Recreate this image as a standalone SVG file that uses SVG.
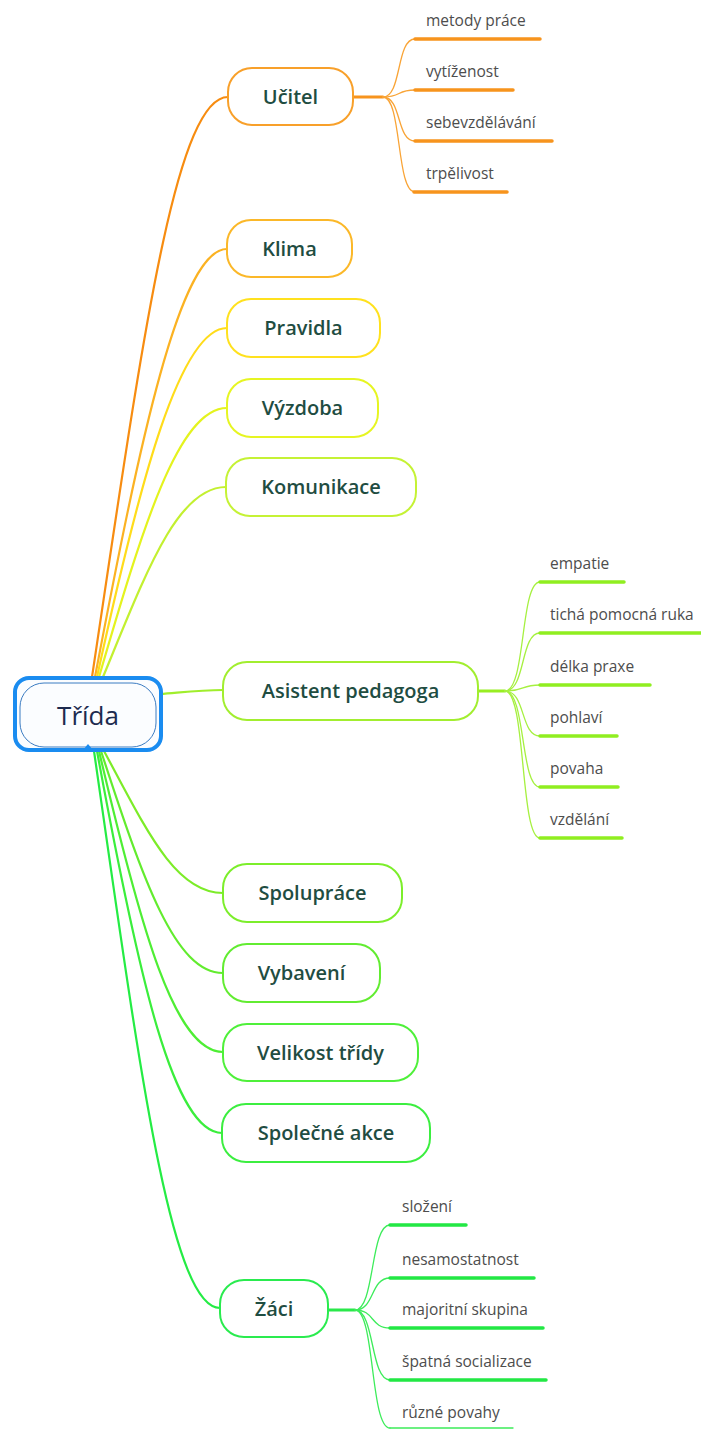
<svg xmlns="http://www.w3.org/2000/svg" width="701" height="1429" viewBox="0 0 701 1429">
<style>
  .node rect { fill: #ffffff; stroke-width: 2; }
  .node text { font-family: "Open Sans", "Noto Sans", "Liberation Sans", sans-serif; font-size: 20px; font-weight: 600; fill: #1f4d42; text-anchor: middle; }
  .leaf text { font-family: "Open Sans", "Noto Sans", "Liberation Sans", sans-serif; font-size: 15.5px; fill: #4d4d4d; }
  .conn path { fill: none; stroke-linecap: round; }
  .main { stroke-width: 2.2; }
  .sub { stroke-width: 1.3; }
  .ul { stroke-width: 3.5; stroke-linecap: butt; }
  .trunk { stroke-width: 3; }
</style>
<rect width="701" height="1429" fill="#ffffff"/>
<g id="connectors" class="conn">
  <!-- root to main topics -->
  <path class="main" stroke="#f78c10" d="M92,677 C140,358 174,97 228,97"/>
  <path class="main" stroke="#fbb222" d="M95,677 C140,440 180,249 227,249"/>
  <path class="main" stroke="#ffdc1a" d="M97,677 C140,480 180,328 227,328"/>
  <path class="main" stroke="#e4f31e" d="M99,677 C142,530 178,408 227,408"/>
  <path class="main" stroke="#c3f030" d="M103,677 C146,573 177,487 226,487"/>
  <path class="main" stroke="#a0ee2c" d="M160,694 C185,692 200,690 223,690"/>
  <path class="main" stroke="#7cec28" d="M104,751 C146,829 175,893 223,893"/>
  <path class="main" stroke="#62ec2e" d="M101,751 C143,880 175,973 223,973"/>
  <path class="main" stroke="#4eee34" d="M99,751 C141,930 175,1052 223,1052"/>
  <path class="main" stroke="#3aee3c" d="M97,751 C139,980 174,1133 222,1133"/>
  <path class="main" stroke="#24ec44" d="M94,751 C138,1057 170,1308 220,1308"/>
  <!-- Učitel subtopics -->
  <path class="trunk" stroke="#f7941d" d="M353,97 L383,97"/>
  <path class="sub" stroke="#f9a436" d="M383,97 C402,97 396,39 415,39"/>
  <path class="sub" stroke="#f9a436" d="M383,97 C402,97 396,90 415,90"/>
  <path class="sub" stroke="#f9a436" d="M383,97 C402,97 396,141 415,141"/>
  <path class="sub" stroke="#f9a436" d="M383,97 C402,97 396,192 415,192"/>
  <path class="ul" stroke="#f7941d" d="M415,39 L540,39"/>
  <path class="ul" stroke="#f7941d" d="M415,90 L513,90"/>
  <path class="ul" stroke="#f7941d" d="M415,141 L552,141"/>
  <path class="ul" stroke="#f7941d" d="M414,192 L507,192"/>
  <!-- Asistent pedagoga subtopics -->
  <path class="trunk" stroke="#98ee22" d="M478,691 L505,691"/>
  <path class="sub" stroke="#a6f040" d="M505,691 C526,691 520,582 540,582"/>
  <path class="sub" stroke="#a6f040" d="M505,691 C526,691 520,633 540,633"/>
  <path class="sub" stroke="#a6f040" d="M505,691 C526,691 520,685 540,685"/>
  <path class="sub" stroke="#a6f040" d="M505,691 C526,691 520,736 540,736"/>
  <path class="sub" stroke="#a6f040" d="M505,691 C526,691 520,787 540,787"/>
  <path class="sub" stroke="#a6f040" d="M505,691 C526,691 520,838 540,838"/>
  <path class="ul" stroke="#90ee20" d="M540,582 L624,582"/>
  <path class="ul" stroke="#90ee20" d="M540,633 L701,633"/>
  <path class="ul" stroke="#90ee20" d="M540,685 L650,685"/>
  <path class="ul" stroke="#90ee20" d="M540,736 L617,736"/>
  <path class="ul" stroke="#90ee20" d="M540,787 L618,787"/>
  <path class="ul" stroke="#90ee20" d="M540,838 L622,838"/>
  <!-- Žáci subtopics -->
  <path class="trunk" stroke="#2ae84a" d="M328,1310 L355,1310"/>
  <path class="sub" stroke="#3cec5a" d="M355,1310 C375,1310 370,1225 390,1225"/>
  <path class="sub" stroke="#3cec5a" d="M355,1310 C375,1310 370,1278 390,1278"/>
  <path class="sub" stroke="#3cec5a" d="M355,1310 C375,1310 370,1328 390,1328"/>
  <path class="sub" stroke="#3cec5a" d="M355,1310 C375,1310 370,1380 390,1380"/>
  <path class="sub" stroke="#3cec5a" d="M355,1310 C375,1310 370,1428 390,1428"/>
  <path class="ul" stroke="#22e844" d="M390,1225 L466,1225"/>
  <path class="ul" stroke="#22e844" d="M390,1278 L534,1278"/>
  <path class="ul" stroke="#22e844" d="M390,1328 L543,1328"/>
  <path class="ul" stroke="#22e844" d="M390,1380 L546,1380"/>
  <path class="sub" stroke="#3cec5a" d="M390,1428 L513,1428"/>
</g>
<g id="root">
  <rect x="15" y="678" width="146" height="72" rx="14" fill="#fbfdff" stroke="#1a8cf0" stroke-width="4"/>
  <rect x="20" y="683" width="136" height="64" rx="24" fill="#fbfdff" stroke="#3b7cc2" stroke-width="1"/>
  <path d="M83,750 L88,744 L93,750 Z" fill="#1a8cf0"/>
  <text x="88" y="725" font-family="'Open Sans', 'Noto Sans', 'Liberation Sans', sans-serif" font-size="26" font-weight="500" fill="#1d2b4f" text-anchor="middle">Třída</text>
</g>
<g id="n-ucitel" class="node"><rect x="228" y="68" width="125" height="57" rx="24" stroke="#f8a02a"/><text x="290.5" y="104">Učitel</text></g>
<g id="n-klima" class="node"><rect x="227" y="220" width="125" height="57" rx="24" stroke="#fbb829"/><text x="289.5" y="256">Klima</text></g>
<g id="n-pravidla" class="node"><rect x="227" y="299" width="153" height="58" rx="24" stroke="#ffe11e"/><text x="303.5" y="335">Pravidla</text></g>
<g id="n-vyzdoba" class="node"><rect x="227" y="379" width="151" height="58" rx="24" stroke="#e6f522"/><text x="302.5" y="415">Výzdoba</text></g>
<g id="n-komunikace" class="node"><rect x="226" y="458" width="190" height="58" rx="24" stroke="#c5f235"/><text x="321" y="494">Komunikace</text></g>
<g id="n-asistent" class="node"><rect x="223" y="662" width="255" height="58" rx="24" stroke="#a2ee2f"/><text x="350.5" y="698">Asistent pedagoga</text></g>
<g id="n-spoluprace" class="node"><rect x="223" y="864" width="179" height="58" rx="24" stroke="#7cee2b"/><text x="312.5" y="900">Spolupráce</text></g>
<g id="n-vybaveni" class="node"><rect x="223" y="944" width="157" height="58" rx="24" stroke="#62ec31"/><text x="301.5" y="980">Vybavení</text></g>
<g id="n-velikost" class="node"><rect x="223" y="1024" width="195" height="57" rx="24" stroke="#4ff03a"/><text x="320.5" y="1060">Velikost třídy</text></g>
<g id="n-spolecne" class="node"><rect x="222" y="1104" width="208" height="58" rx="24" stroke="#3cee40"/><text x="326" y="1140">Společné akce</text></g>
<g id="n-zaci" class="node"><rect x="220" y="1280" width="108" height="57" rx="24" stroke="#2aeb4f"/><text x="274" y="1316">Žáci</text></g>
<g id="leaves-ucitel" class="leaf">
  <text x="426" y="26">metody práce</text>
  <text x="426" y="77">vytíženost</text>
  <text x="426" y="128">sebevzdělávání</text>
  <text x="426" y="179">trpělivost</text>
</g>
<g id="leaves-asistent" class="leaf">
  <text x="550" y="569">empatie</text>
  <text x="550" y="620">tichá pomocná ruka</text>
  <text x="550" y="672">délka praxe</text>
  <text x="550" y="723">pohlaví</text>
  <text x="550" y="774">povaha</text>
  <text x="550" y="825">vzdělání</text>
</g>
<g id="leaves-zaci" class="leaf">
  <text x="402" y="1212">složení</text>
  <text x="402" y="1265">nesamostatnost</text>
  <text x="402" y="1315">majoritní skupina</text>
  <text x="402" y="1367">špatná socializace</text>
  <text x="402" y="1418">různé povahy</text>
</g>
</svg>
